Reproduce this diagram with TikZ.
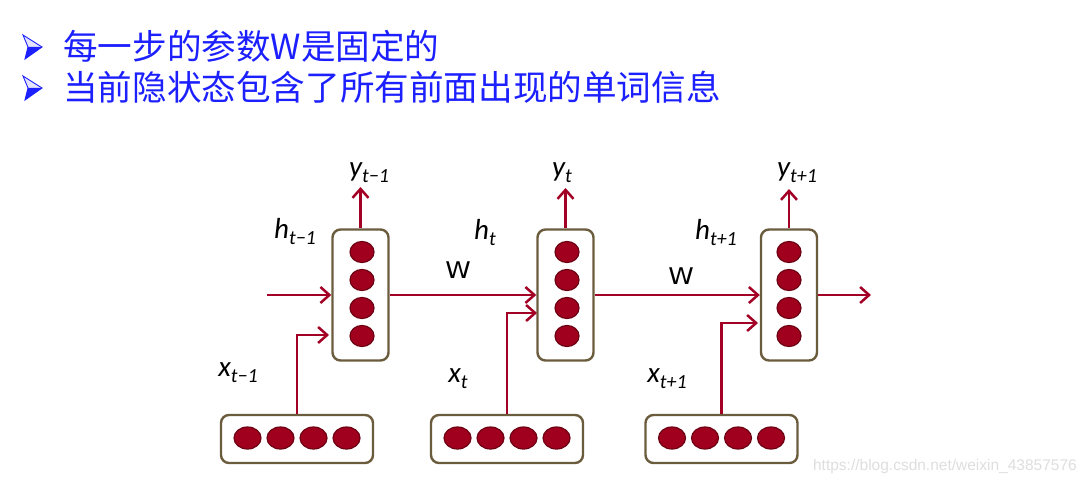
\documentclass[tikz,border=0pt]{standalone}
\usepackage{fontspec}
\usetikzlibrary{arrows.meta,shapes.geometric}
\setmainfont{Liberation Sans}
\newfontfamily\cjk{Noto Sans CJK SC}
\newfontfamily\lab{Carlito}
\newfontfamily\wfont{DejaVu Sans}

\definecolor{headblue}{RGB}{28,32,255}
\definecolor{rnnred}{RGB}{163,0,38}
\definecolor{dotfill}{RGB}{160,0,30}
\definecolor{dotedge}{RGB}{110,0,20}
\definecolor{boxedge}{RGB}{108,92,62}
\definecolor{wmark}{RGB}{222,222,222}

% subscript set lower and smaller than the main letter
\newcommand\lblsub[1]{\raisebox{-6pt}{\fontsize{20}{20}\selectfont #1}}

\begin{document}
\begin{tikzpicture}[x=1pt,y=-1pt,
  hbox/.style={draw=boxedge,line width=2.4pt,rounded corners=8pt,fill=white,
               minimum width=56pt,minimum height=131pt,inner sep=0pt},
  xbox/.style={draw=boxedge,line width=2.4pt,rounded corners=8pt,fill=white,
               minimum width=152pt,minimum height=48pt,inner sep=0pt},
  dot/.style={ellipse,fill=dotfill,draw=dotedge,line width=1.2pt,
              minimum width=24pt,minimum height=21pt,inner sep=0pt},
  xdot/.style={dot,minimum width=27pt,minimum height=22pt},
  arr/.style={draw=rnnred,line width=2.5pt,-{Straight Barb[length=9pt,width=16pt]}},
  lbl/.style={inner sep=0pt,font=\lab\itshape\fontsize{29}{29}\selectfont},
  wlbl/.style={inner sep=0pt,font=\wfont\fontsize{23}{23}\selectfont},
  head/.style={anchor=base west,inner sep=0pt,text=headblue,
               font=\cjk\fontsize{34.6}{34.6}\selectfont},
  bullet/.pic={
    \fill[headblue!12] (0,0) -- (19,12) -- (5,12) -- cycle;
    \fill[headblue] (5,12) -- (19,12) -- (2,24) -- cycle;
    \draw[headblue,line width=0.9pt,line join=miter] (0,0) -- (19,12) -- (2,24) -- (5,12) -- cycle;
  }]
\useasboundingbox (0,0) rectangle (1086,484);

% heading lines
\pic at (23,35) {bullet};
\pic at (23,76) {bullet};
\node[head] (line1) at (63,60) {每一步的参数W是固定的};
\node[head] (line2) at (63,101) {当前隐状态包含了所有前面出现的单词信息};

% hidden-state boxes
\node[hbox] (h1) at (360.5,295) {};
\node[hbox] (h2) at (565.5,295) {};
\node[hbox] (h3) at (789,295) {};
\foreach \n/\cx in {1/362,2/567,3/789}{
  \foreach \k/\cy in {1/252,2/280,3/308,4/336}{
    \node[dot] (h\n d\k) at (\cx,\cy) {};
  }
}

% input word boxes
\node[xbox] (x1) at (297,439) {};
\node[xbox] (x2) at (507,439) {};
\node[xbox] (x3) at (721.5,439) {};
\foreach \n/\cx in {1/297,2/507,3/721.5}{
  \foreach \k/\dx in {1/-49.5,2/-16.5,3/16.5,4/49.5}{
    \node[xdot] (x\n d\k) at (\cx+\dx,438) {};
  }
}

% free ends of the connectors
\coordinate (hin) at (267,295);
\coordinate (hout) at (871,295);
\coordinate (y1top) at (360.5,187);
\coordinate (y2top) at (565.5,188);
\coordinate (y3top) at (789,189);
\coordinate (x1in) at (329,335);
\coordinate (x2in) at (537,313);
\coordinate (x3in) at (758,323);

% recurrent connections
\draw[arr] (hin) -- (h1.west);
\draw[arr] (h1.east) -- (h2.west);
\draw[arr] (h2.east) -- (h3.west);
\draw[arr] (h3.east) -- (hout);

% outputs
\draw[arr] (h1.north) -- (y1top);
\draw[arr] (h2.north) -- (y2top);
\draw[arr] (h3.north) -- (y3top);

% inputs
\draw[arr] (x1.north) |- (x1in);
\draw[arr] (x2.north) |- (x2in);
\draw[arr] (x3.north) |- (x3in);

% labels
\node[lbl] (ly1) at (369,173) {y\lblsub{t−1}};
\node[lbl] (ly2) at (562,173) {y\lblsub{t}};
\node[lbl] (ly3) at (797,173) {y\lblsub{t+1}};
\node[lbl] (lh1) at (295,232) {h\lblsub{t−1}};
\node[lbl] (lh2) at (485,233) {h\lblsub{t}};
\node[lbl] (lh3) at (716,233) {h\lblsub{t+1}};
\node[lbl] (lx1) at (238,373) {x\lblsub{t−1}};
\node[lbl] (lx2) at (458,379) {x\lblsub{t}};
\node[lbl] (lx3) at (667,379) {x\lblsub{t+1}};
\node[wlbl] (w1) at (458,270) {\scalebox{1.12}[1]{W}};
\node[wlbl] (w2) at (681,276) {\scalebox{1.12}[1]{W}};

% source note
\node[anchor=east,inner sep=0pt,text=wmark,font=\fontsize{15.5}{15.5}\selectfont]
  (src) at (1077,466) {https://blog.csdn.net/weixin\_43857576};
\end{tikzpicture}
\end{document}
